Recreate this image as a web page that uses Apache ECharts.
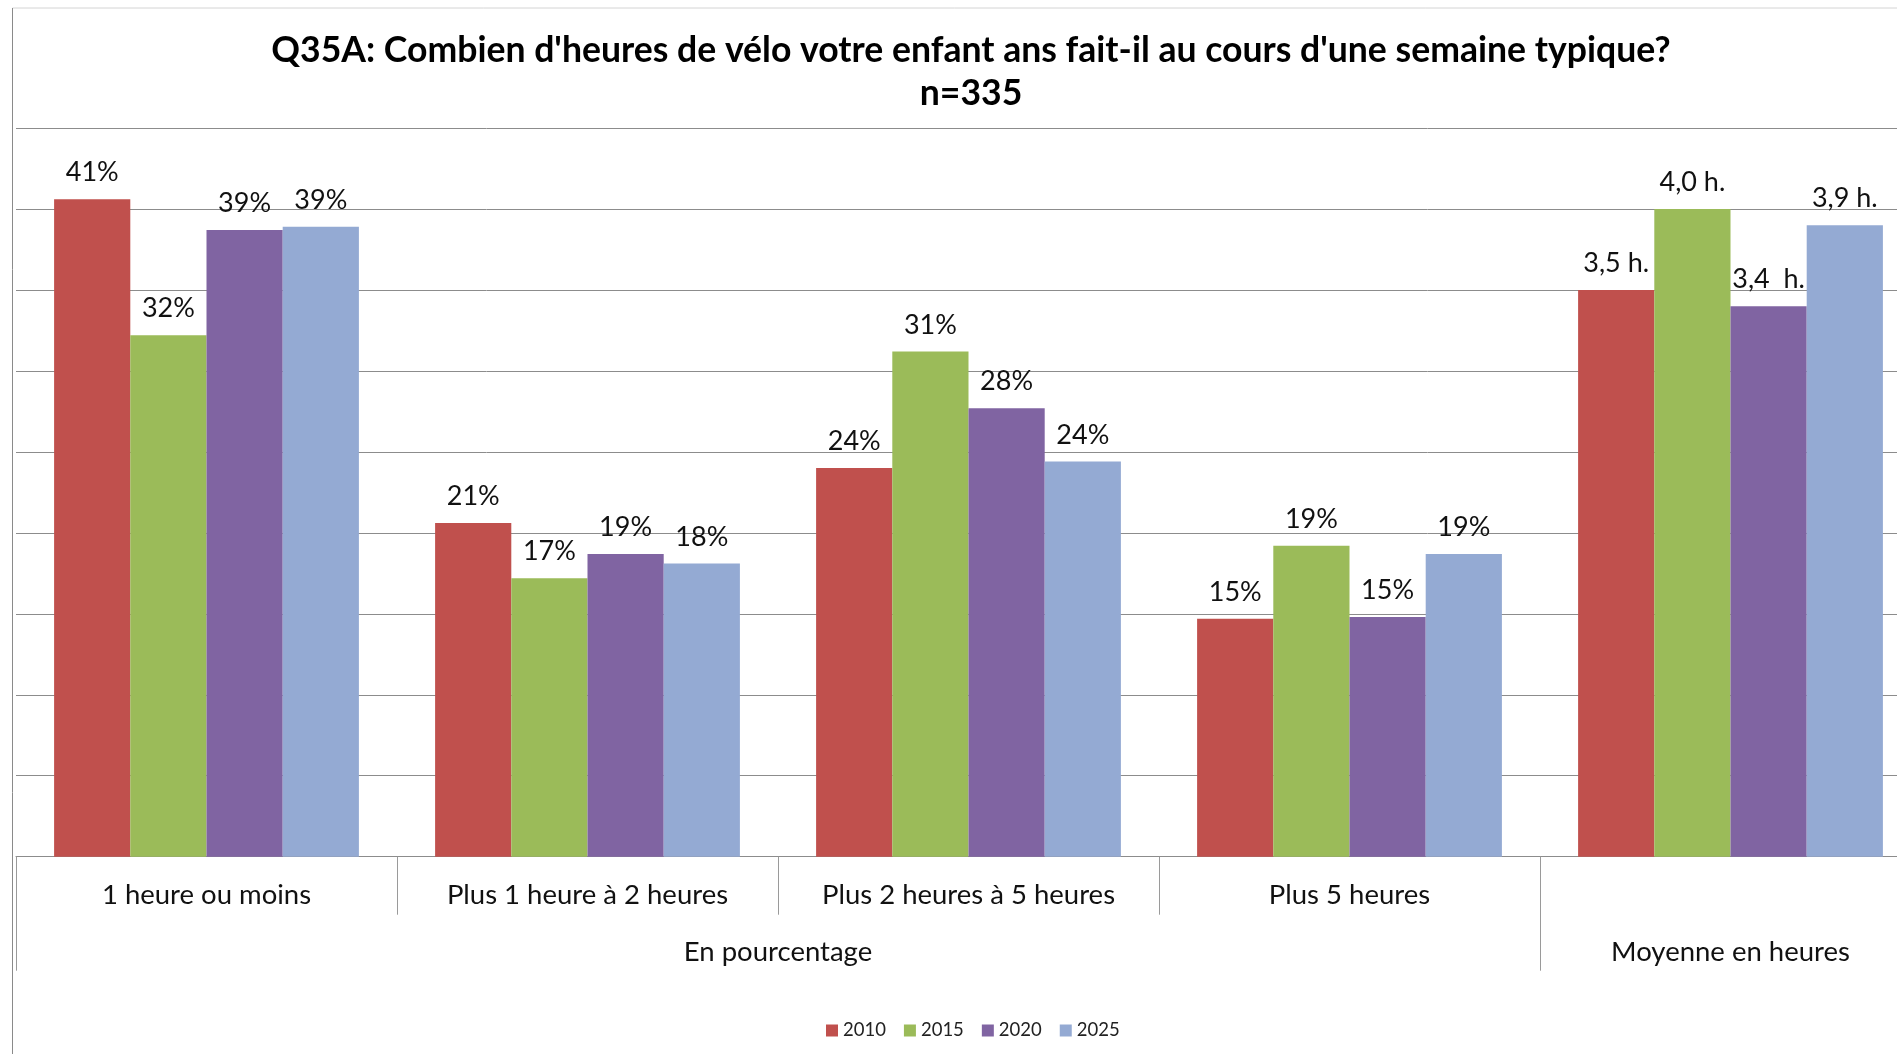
<!DOCTYPE html>
<html>
<head>
<meta charset="utf-8">
<script src="https://cdn.jsdelivr.net/npm/echarts@6/dist/echarts.min.js"></script>
<style>
  html, body { margin: 0; padding: 0; background: #fff; }
  #chart { width: 1897px; height: 1054px; }
</style>
</head>
<body>
<div id="chart"></div>
<script>
// ---- data ----
const categories = ['1 heure ou moins', 'Plus 1 heure à 2 heures', 'Plus 2 heures à 5 heures', 'Plus 5 heures', ''];
const groupLabels = ['En pourcentage', 'Moyenne en heures'];
const years = ['2010', '2015', '2020', '2025'];
// percentages (first four categories)
const pct2010 = [40.6, 20.6, 24.0, 14.7];
const pct2015 = [32.2, 17.2, 31.2, 19.2];
const pct2020 = [38.7, 18.7, 27.7, 14.8];
const pct2025 = [38.9, 18.1, 24.4, 18.7];
// average hours (last category)
const hours = [3.5, 4.0, 3.4, 3.9];
const hourLabels = ['3,5 h.', '4,0 h.', '3,4  h.', '3,9 h.'];
const colors = ['#C0504D', '#9BBB59', '#8064A2', '#94AAD3'];

const pctSeries = [pct2010, pct2015, pct2020, pct2025];

const FONT = 'Lato';

const series = years.map((y, i) => ({
  name: y,
  type: 'bar',
  xAxisIndex: 0,
  yAxisIndex: 0,
  barGap: '0%',
  barCategoryGap: '20%',
  itemStyle: { color: colors[i] },
  data: pctSeries[i].concat([hours[i] * 10]),
  label: {
    show: true,
    position: 'top',
    distance: 13,
    color: '#111',
    fontFamily: FONT,
    fontSize: 27,
    formatter: p => p.dataIndex < 4 ? Math.round(pctSeries[i][p.dataIndex]) + '%' : hourLabels[i]
  }
}));

const chart = echarts.init(document.getElementById('chart'), null, { renderer: 'canvas' });
chart.setOption({
  animation: false,
  backgroundColor: '#ffffff',
  title: {
    text: "Q35A: Combien d'heures de vélo votre enfant ans fait-il au cours d'une semaine typique?\nn=335",
    left: 966,
    top: 24,
    textAlign: 'center',
    textStyle: { fontFamily: FONT, fontWeight: 'bold', fontSize: 35.6, lineHeight: 43, color: '#000' }
  },
  legend: {
    data: years,
    left: 821,
    top: 1016,
    itemWidth: 12,
    itemHeight: 12,
    itemGap: 18,
    icon: 'rect',
    textStyle: { fontFamily: FONT, fontSize: 18.5, color: '#222' }
  },
  grid: {
    left: 16,
    top: 128,
    width: 1905,
    bottom: 197.3,
    containLabel: false,
    outerBoundsMode: 'none'
  },
  xAxis: [
    {
      type: 'category',
      data: categories,
      position: 'bottom',
      axisLine: { show: true, lineStyle: { color: '#8c8c8c', width: 1 } },
      axisTick: { show: true, length: 58, lineStyle: { color: '#9a9a9a' } },
      axisLabel: { interval: 0, margin: 24, color: '#111', fontFamily: FONT, fontSize: 27.5 },
      splitLine: { show: false }
    },
    {
      type: 'value',
      min: 0,
      max: 5,
      position: 'bottom',
      axisLine: { show: false },
      splitLine: { show: false },
      axisTick: { show: true, length: 114, customValues: [0, 4], lineStyle: { color: '#9a9a9a' } },
      axisLabel: {
        show: true,
        customValues: [2, 4.5],
        margin: 81,
        color: '#111',
        fontFamily: FONT,
        fontSize: 27.5,
        formatter: v => (v < 4 ? groupLabels[0] : groupLabels[1])
      }
    }
  ],
  yAxis: {
    type: 'value',
    min: 0,
    max: 45,
    interval: 5,
    axisLine: { show: false },
    axisTick: { show: false },
    axisLabel: { show: false },
    splitLine: { show: true, lineStyle: { color: '#8c8c8c', width: 1 } }
  },
  graphic: [
    { type: 'line', shape: { x1: 12.5, y1: 8, x2: 1897, y2: 8 }, style: { stroke: '#d4d4d4', lineWidth: 1 }, silent: true },
    { type: 'line', shape: { x1: 12.5, y1: 8, x2: 12.5, y2: 1054 }, style: { stroke: '#8a8a8a', lineWidth: 1 }, silent: true }
  ],
  series: series
});
</script>
</body>
</html>
